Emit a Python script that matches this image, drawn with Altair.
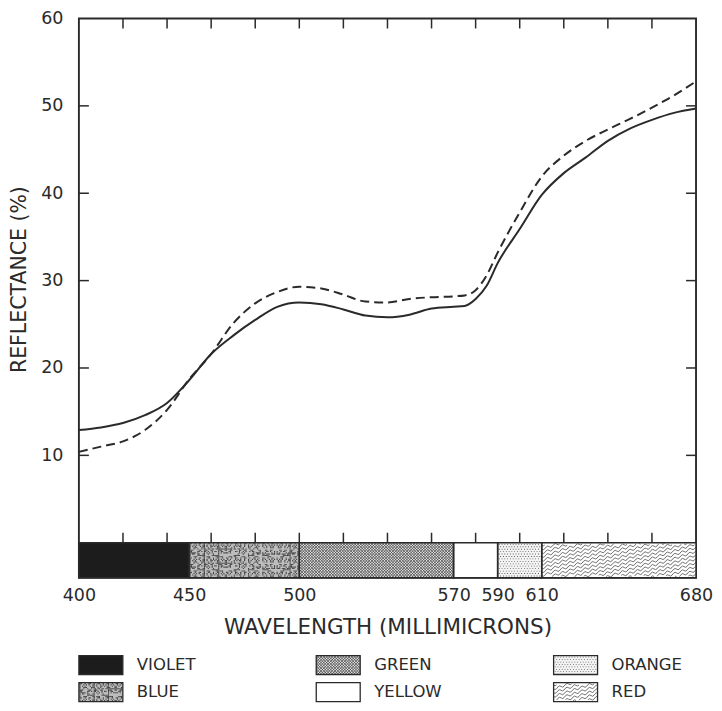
import math
import altair as alt
import pandas as pd

# ---------------- data ----------------
wavelength = [400, 410, 420, 430, 440, 450, 460, 470, 480, 490, 500, 510, 520, 530,
              540, 550, 560, 570, 575, 580, 585, 590, 600, 610, 620, 630, 640, 650,
              660, 670, 680]
reflect_solid = [12.9, 13.2, 13.7, 14.6, 16.0, 18.6, 21.6, 23.7, 25.5, 27.0, 27.5, 27.3,
                 26.7, 26.0, 25.8, 26.1, 26.8, 27.0, 27.1, 27.9, 29.4, 32.0, 35.9, 39.8,
                 42.3, 44.1, 46.0, 47.4, 48.4, 49.2, 49.7]
reflect_dashed = [10.4, 11.0, 11.6, 12.9, 15.2, 18.7, 21.6, 25.1, 27.4, 28.7, 29.3, 29.1,
                  28.4, 27.6, 27.5, 27.9, 28.1, 28.2, 28.3, 28.9, 30.6, 33.2, 37.8, 41.9,
                  44.3, 46.0, 47.3, 48.5, 49.8, 51.2, 52.8]

band_names = ["VIOLET", "BLUE", "GREEN", "YELLOW", "ORANGE", "RED"]
band_start = [400, 450, 500, 570, 590, 610]
band_end = [450, 500, 570, 590, 610, 680]
band_base = ["#1c1c1c", "#bdbdbd", "#e4e4e4", "#ffffff", "#f3f3f3", "#ffffff"]
band_texture = ["", "speckle", "crosshatch", "", "dots", "waves"]

x_label_values = [400, 450, 500, 570, 590, 610, 680]
x_minor_ticks = [420, 440, 460, 480, 500, 520, 540, 560, 580, 600, 620, 640, 660]
y_label_values = [10, 20, 30, 40, 50, 60]
y_side_ticks = [10, 20, 30, 40, 50]

# legend layout: column / row of each band's key
legend_col = [0, 0, 1, 1, 2, 2]
legend_row = [0, 1, 0, 1, 0, 1]

# ---------------- geometry / style ----------------
W, H = 618, 560
X0, X1 = 400, 680
Y0, Y1 = -4, 60
PX_NM = W / (X1 - X0)
BAND_H = (0 - Y0) * H / (Y1 - Y0)
INK = "#2a2a2a"
TEX_INK = "#404040"
FONT = "DejaVu Sans"
SW_W, SW_H = 44, 19


def f(v):
    return f"{v:.1f}"


def tex_crosshatch(w, h, step=2.8, oy=0.0):
    parts = []
    c = -h
    while c <= w + h:
        for s in (1, -1):
            if s == 1:
                ylo, yhi = max(0.0, -c), min(h, w - c)
            else:
                ylo, yhi = max(0.0, c - w), min(h, c)
            if yhi - ylo > 0.3:
                x1, x2 = c + s * ylo, c + s * yhi
                parts.append(f"M{f(x1)},{f(ylo + oy)}L{f(x2)},{f(yhi + oy)}")
        c += step
    return "".join(parts)


def tex_dots(w, h, step=2.8, r=0.8, oy=0.0):
    parts = []
    j = 0
    y = 1.2
    while y + r <= h - 0.8:
        x = 1.2 + (step / 2 if j % 2 else 0)
        while x + r <= w - 0.8:
            parts.append(f"M{f(x)},{f(y + oy)}h{r}v{r}h-{r}z")
            x += step
        y += step * 0.87
        j += 1
    return "".join(parts)


def tex_speckle(w, h, step=1.3, r=1.1, oy=0.0):
    parts = []
    nx, ny = int(w / step), int(h / step)
    for j in range(ny):
        for i in range(nx):
            if (i * 37 + j * 91 + (i * j) % 11) % 7 < 3:
                x, y = 0.5 + i * step, 0.5 + j * step
                if x + r < w and y + r < h:
                    parts.append(f"M{f(x)},{f(y + oy)}h{r}v{r}h-{r}z")
    return "".join(parts)


def tex_waves(w, h, spacing=3.8, slope=0.33, amp=1.2, period=7.5, oy=0.0):
    parts = []
    y0 = -amp
    while y0 <= h + slope * w + amp:
        seg = []
        x = 0.0
        while x <= w + 0.01:
            y = y0 - slope * x + amp * math.sin(2 * math.pi * x / period)
            if 0.7 <= y <= h - 0.7:
                seg.append((x, y))
            else:
                if len(seg) > 1:
                    parts.append("M" + "L".join(f"{f(a)},{f(b + oy)}" for a, b in seg))
                seg = []
            x += 1.5
        if len(seg) > 1:
            parts.append("M" + "L".join(f"{f(a)},{f(b + oy)}" for a, b in seg))
        y0 += spacing
    return "".join(parts)


TEX = {"speckle": tex_speckle, "crosshatch": tex_crosshatch,
       "dots": tex_dots, "waves": tex_waves}
TEX_KIND = {"speckle": "fill", "dots": "fill", "crosshatch": "line", "waves": "line"}

# ---------------- tables ----------------
curve_df = pd.DataFrame({"wl": wavelength, "solid": reflect_solid, "dashed": reflect_dashed})
band_df = pd.DataFrame({"name": band_names, "start": band_start, "end": band_end,
                        "base": band_base, "top": 0, "bottom": Y0})

tex_rows = []
for name, s, e, t in zip(band_names, band_start, band_end, band_texture):
    if t:
        tex_rows.append({"start": s, "top": 0, "kind": TEX_KIND[t],
                         "path": TEX[t]((e - s) * PX_NM, BAND_H)})
tex_df = pd.DataFrame(tex_rows)

xscale = alt.Scale(domain=[X0, X1], nice=False, zero=False)
yscale = alt.Scale(domain=[Y0, Y1], nice=False, zero=False)
xaxis = alt.Axis(values=x_label_values, title="WAVELENGTH (MILLIMICRONS)",
                 labelPadding=9, titlePadding=12.5, labelFontSize=17.5, titleFontSize=21.5,
                 format="d", labelFlush=False)
yaxis = alt.Axis(values=y_label_values, title="REFLECTANCE (%)",
                 labelPadding=16, titlePadding=11, labelFontSize=17.5, titleFontSize=20.5,
                 format="d", titleY=261)

rects = alt.Chart(band_df).mark_rect(strokeWidth=0).encode(
    x=alt.X("start:Q", scale=xscale, axis=xaxis),
    x2="end:Q",
    y=alt.Y("top:Q", scale=yscale, axis=yaxis),
    y2="bottom:Q",
    fill=alt.Fill("base:N", scale=None),
)

tex_line = alt.Chart(tex_df).transform_filter(alt.datum.kind == "line").mark_point(
    filled=False, size=4, stroke=TEX_INK, strokeWidth=0.75, opacity=1
).encode(
    x=alt.X("start:Q", scale=xscale, axis=xaxis),
    y=alt.Y("top:Q", scale=yscale, axis=yaxis),
    shape=alt.Shape("path:N", scale=None),
)
tex_fill = alt.Chart(tex_df).transform_filter(alt.datum.kind == "fill").mark_point(
    filled=True, size=4, fill=TEX_INK, strokeWidth=0, opacity=1
).encode(
    x=alt.X("start:Q", scale=xscale, axis=xaxis),
    y=alt.Y("top:Q", scale=yscale, axis=yaxis),
    shape=alt.Shape("path:N", scale=None),
)

rect_edges = alt.Chart(band_df).mark_rect(fill="transparent", stroke=INK, strokeWidth=1.5).encode(
    x=alt.X("start:Q", scale=xscale, axis=xaxis),
    x2="end:Q",
    y=alt.Y("top:Q", scale=yscale, axis=yaxis),
    y2="bottom:Q",
)

line_solid = alt.Chart(curve_df).mark_line(
    interpolate="monotone", color=INK, strokeWidth=2
).encode(
    x=alt.X("wl:Q", scale=xscale, axis=xaxis),
    y=alt.Y("solid:Q", scale=yscale, axis=yaxis),
)
line_dashed = alt.Chart(curve_df).mark_line(
    interpolate="monotone", color=INK, strokeWidth=2, strokeDash=[9, 5]
).encode(
    x=alt.X("wl:Q", scale=xscale, axis=xaxis),
    y=alt.Y("dashed:Q", scale=yscale, axis=yaxis),
)

xt_df = pd.DataFrame({"t": x_minor_ticks})
yt_df = pd.DataFrame({"t": y_side_ticks})
tick_top = alt.Chart(xt_df).mark_tick(orient="vertical", size=10, thickness=1.5,
                                      color=INK, yOffset=5, opacity=1).encode(
    x=alt.X("t:Q", scale=xscale, axis=xaxis), y=alt.Y(datum=Y1, scale=yscale, axis=yaxis))
tick_bot = alt.Chart(xt_df).mark_tick(orient="vertical", size=10, thickness=1.5,
                                      color=INK, yOffset=-5, opacity=1).encode(
    x=alt.X("t:Q", scale=xscale, axis=xaxis), y=alt.Y(datum=0, scale=yscale, axis=yaxis))
tick_left = alt.Chart(yt_df).mark_tick(orient="horizontal", size=10, thickness=1.5,
                                       color=INK, xOffset=5, opacity=1).encode(
    y=alt.Y("t:Q", scale=yscale, axis=yaxis), x=alt.X(datum=X0, scale=xscale, axis=xaxis))
tick_right = alt.Chart(yt_df).mark_tick(orient="horizontal", size=10, thickness=1.5,
                                        color=INK, xOffset=-5, opacity=1).encode(
    y=alt.Y("t:Q", scale=yscale, axis=yaxis), x=alt.X(datum=X1, scale=xscale, axis=xaxis))

main = alt.layer(rects, tex_fill, tex_line, rect_edges, line_solid, line_dashed,
                 tick_top, tick_bot, tick_left, tick_right).properties(
    width=W, height=H,
    view=alt.ViewBackground(stroke=INK, strokeWidth=1.9),
)

# ---------------- legend ----------------
leg_rows = []
for name, base, t, c, r in zip(band_names, band_base, band_texture, legend_col, legend_row):
    leg_rows.append({"name": name, "col": c, "row": r, "base": base,
                     "box": f"M0,{-SW_H / 2}H{SW_W}V{SW_H / 2}H0Z",
                     "kind": TEX_KIND.get(t, "none"),
                     "path": TEX[t](SW_W, SW_H, oy=-SW_H / 2) if t else "M0,0"})
leg_df = pd.DataFrame(leg_rows)

lx = alt.X("col:Q", scale=alt.Scale(domain=[0, 2.6], nice=False, zero=False), axis=None)
ly = alt.Y("row:Q", scale=alt.Scale(domain=[-0.35, 1.35], nice=False, zero=False, reverse=True),
           axis=None)

leg_base = alt.Chart(leg_df).mark_point(filled=True, size=4, strokeWidth=0, opacity=1).encode(
    x=lx, y=ly, shape=alt.Shape("box:N", scale=None), fill=alt.Fill("base:N", scale=None))
leg_tfill = alt.Chart(leg_df).transform_filter(alt.datum.kind == "fill").mark_point(
    filled=True, size=4, fill=TEX_INK, strokeWidth=0, opacity=1).encode(
    x=lx, y=ly, shape=alt.Shape("path:N", scale=None))
leg_tline = alt.Chart(leg_df).transform_filter(alt.datum.kind == "line").mark_point(
    filled=False, size=4, stroke=TEX_INK, strokeWidth=0.75, opacity=1).encode(
    x=lx, y=ly, shape=alt.Shape("path:N", scale=None))
leg_edge = alt.Chart(leg_df).mark_point(filled=False, size=4, stroke=INK, strokeWidth=1.3,
                                        opacity=1).encode(
    x=lx, y=ly, shape=alt.Shape("box:N", scale=None))
leg_text = alt.Chart(leg_df).mark_text(align="left", baseline="middle", dx=58, fontSize=16.5,
                                       font=FONT, color=INK).encode(
    x=lx, y=ly, text="name:N")

legend = alt.layer(leg_base, leg_tfill, leg_tline, leg_edge, leg_text).properties(
    width=W, height=46,
    view=alt.ViewBackground(stroke="transparent", strokeWidth=0),
)

chart = alt.vconcat(main, legend, spacing=13).properties(
    padding={"left": 0, "top": 0, "right": 0, "bottom": 0},
).configure_axis(
    labelFont=FONT, titleFont=FONT, labelColor=INK, titleColor=INK,
    titleFontWeight="normal", domain=False, ticks=False, grid=False,
).configure_view(stroke=INK)

chart.save("out.html", embed_options={"renderer": "svg", "actions": False})
